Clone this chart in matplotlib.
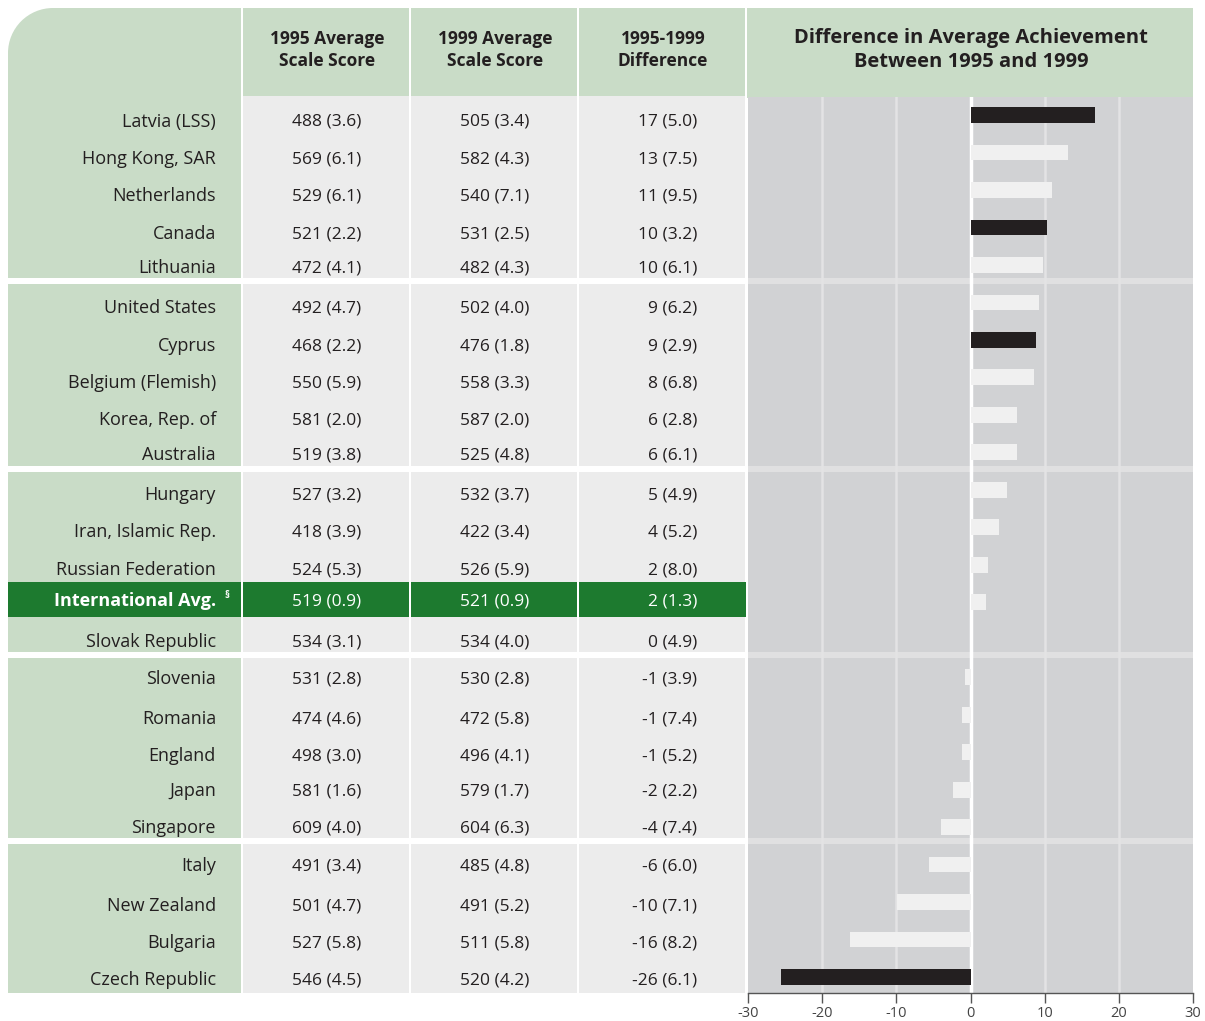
import matplotlib
matplotlib.use("Agg")
import matplotlib.pyplot as plt
from matplotlib.patches import Rectangle, Circle

plt.rcParams['font.family'] = ['Open Sans', 'DejaVu Sans']

countries = ["Latvia (LSS)", "Hong Kong, SAR", "Netherlands", "Canada", "Lithuania",
             "United States", "Cyprus", "Belgium (Flemish)", "Korea, Rep. of", "Australia",
             "Hungary", "Iran, Islamic Rep.", "Russian Federation", "International Avg.", "Slovak Republic",
             "Slovenia", "Romania", "England", "Japan", "Singapore",
             "Italy", "New Zealand", "Bulgaria", "Czech Republic"]
score95 = [488, 569, 529, 521, 472, 492, 468, 550, 581, 519, 527, 418, 524, 519, 534,
           531, 474, 498, 581, 609, 491, 501, 527, 546]
se95 = [3.6, 6.1, 6.1, 2.2, 4.1, 4.7, 2.2, 5.9, 2.0, 3.8, 3.2, 3.9, 5.3, 0.9, 3.1,
        2.8, 4.6, 3.0, 1.6, 4.0, 3.4, 4.7, 5.8, 4.5]
score99 = [505, 582, 540, 531, 482, 502, 476, 558, 587, 525, 532, 422, 526, 521, 534,
           530, 472, 496, 579, 604, 485, 491, 511, 520]
se99 = [3.4, 4.3, 7.1, 2.5, 4.3, 4.0, 1.8, 3.3, 2.0, 4.8, 3.7, 3.4, 5.9, 0.9, 4.0,
        2.8, 5.8, 4.1, 1.7, 6.3, 4.8, 5.2, 5.8, 4.2]
diff = [17, 13, 11, 10, 10, 9, 9, 8, 6, 6, 5, 4, 2, 2, 0,
        -1, -1, -1, -2, -4, -6, -10, -16, -26]
diff_se = [5.0, 7.5, 9.5, 3.2, 6.1, 6.2, 2.9, 6.8, 2.8, 6.1, 4.9, 5.2, 8.0, 1.3, 4.9,
           3.9, 7.4, 5.2, 2.2, 7.4, 6.0, 7.1, 8.2, 6.1]
bar_values = [16.8, 13.2, 11.0, 10.3, 9.8, 9.3, 8.8, 8.5, 6.3, 6.3, 4.9, 3.8, 2.3, 2.1, 0.1,
              -0.8, -1.2, -1.2, -2.3, -4.0, -5.6, -9.9, -16.3, -25.6]
significant = [True, False, False, True, False, False, True, False, False, False,
               False, False, False, False, False, False, False, False, False, False,
               False, False, False, True]
ticks = [-30, -20, -10, 0, 10, 20, 30]

# layout
W, H = 1205, 1021
text_y = [122, 159, 196, 234, 268, 308, 346, 383, 420, 455, 495, 532, 570, 601, 642,
          679, 719, 756, 791, 828, 866, 906, 943, 980]
GREEN_LIGHT = "#c9dcc7"
CELL = "#ececec"
CHART_BG = "#d1d2d4"
DARK_GREEN = "#1d7a2f"
TXT = "#231f20"

fig = plt.figure(figsize=(W / 100, H / 100), dpi=100)
ax0 = fig.add_axes([0, 0, 1, 1])
ax0.set_xlim(0, W)
ax0.set_ylim(H, 0)
ax0.axis("off")

L, T, R, B = 8, 8, 1193, 993
r = 45
ax0.add_patch(Rectangle((L + r, T), R - L - r, 90, color=GREEN_LIGHT, lw=0))
ax0.add_patch(Rectangle((L, T + r), 234, B - T - r, color=GREEN_LIGHT, lw=0))
ax0.add_patch(Rectangle((L + r, T), 234 - r, r + 1, color=GREEN_LIGHT, lw=0))
ax0.add_patch(Circle((L + r, T + r), r, color=GREEN_LIGHT, lw=0))

col_left = [243, 411, 579]
for cl in col_left:
    ax0.add_patch(Rectangle((cl, 96), 167, B - 96, color=CELL, lw=0))
for xs in [242, 410, 578, 746]:
    ax0.add_patch(Rectangle((xs - 1, T), 2, B - T, color="white", lw=0))

for ys in [278, 466, 652, 838]:
    ax0.add_patch(Rectangle((L, ys), 746 - L + 1, 6, color="white", lw=0))

ax0.add_patch(Rectangle((L, 582), 738, 35, color=DARK_GREEN, lw=0))
for xs in [242, 410, 578]:
    ax0.add_patch(Rectangle((xs - 1, 582), 2, 35, color="white", lw=0))

hdr_kw = dict(ha="center", va="center", fontsize=12.5, fontweight="bold", color=TXT,
              linespacing=1.3)
ax0.text(327, 50, "1995 Average\nScale Score", **hdr_kw)
ax0.text(495, 50, "1999 Average\nScale Score", **hdr_kw)
ax0.text(663, 50, "1995-1999\nDifference", **hdr_kw)
ax0.text(971, 50, "Difference in Average Achievement\nBetween 1995 and 1999",
         ha="center", va="center", fontsize=14.5, fontweight="bold", color=TXT, linespacing=1.25)

for i, name in enumerate(countries):
    y = text_y[i]
    intl = name.startswith("International")
    c = "white" if intl else TXT
    if intl:
        ax0.text(216, y, name, ha="right", va="center", fontsize=13, color=c, fontweight="bold")
        ax0.text(227, y - 6, "§", ha="center", va="center", fontsize=7, color=c, fontweight="bold")
    else:
        ax0.text(216, y, name, ha="right", va="center", fontsize=13, color=c)
    ax0.text(361, y, f"{score95[i]} ({se95[i]:.1f})", ha="right", va="center", fontsize=12.5, color=c)
    ax0.text(529, y, f"{score99[i]} ({se99[i]:.1f})", ha="right", va="center", fontsize=12.5, color=c)
    ax0.text(697, y, f"{diff[i]} ({diff_se[i]:.1f})", ha="right", va="center", fontsize=12.5, color=c)

ctop, cbot = 97, 993
cl, cr = 748, 1193
ax = fig.add_axes([cl / W, 1 - cbot / H, (cr - cl) / W, (cbot - ctop) / H])
ax.set_facecolor(CHART_BG)
y0, dy = 115, 37.48
n = len(countries)
ax.set_ylim((cbot - y0) / dy, (ctop - y0) / dy)
ax.set_xlim(-30, 30)
for ys in [278, 466, 652, 838]:
    ax.axhspan((ys - y0) / dy, (ys + 6 - y0) / dy, color="#e0e0e1", lw=0, zorder=0.5)
for t in [-20, -10, 10, 20]:
    ax.axvline(t, color="#e3e3e4", lw=1.8, zorder=1)
ax.axvline(0, color="white", lw=2.5, zorder=1)
ypos = list(range(n))
colors = ["#231f20" if s else "#f0f0f0" for s in significant]
ax.barh(ypos, bar_values, height=0.42, color=colors, zorder=3, lw=0)

for s in ["top", "left", "right"]:
    ax.spines[s].set_visible(False)
ax.spines["bottom"].set_color("#555555")
ax.spines["bottom"].set_linewidth(1.0)
ax.set_yticks([])
ax.set_xticks(ticks)
ax.set_xticklabels([str(t) for t in ticks])
ax.tick_params(axis="x", direction="out", length=7, width=1, color="#555555",
               labelsize=10.5, labelcolor="#444444", pad=2)

fig.savefig("out.png", dpi=100)
